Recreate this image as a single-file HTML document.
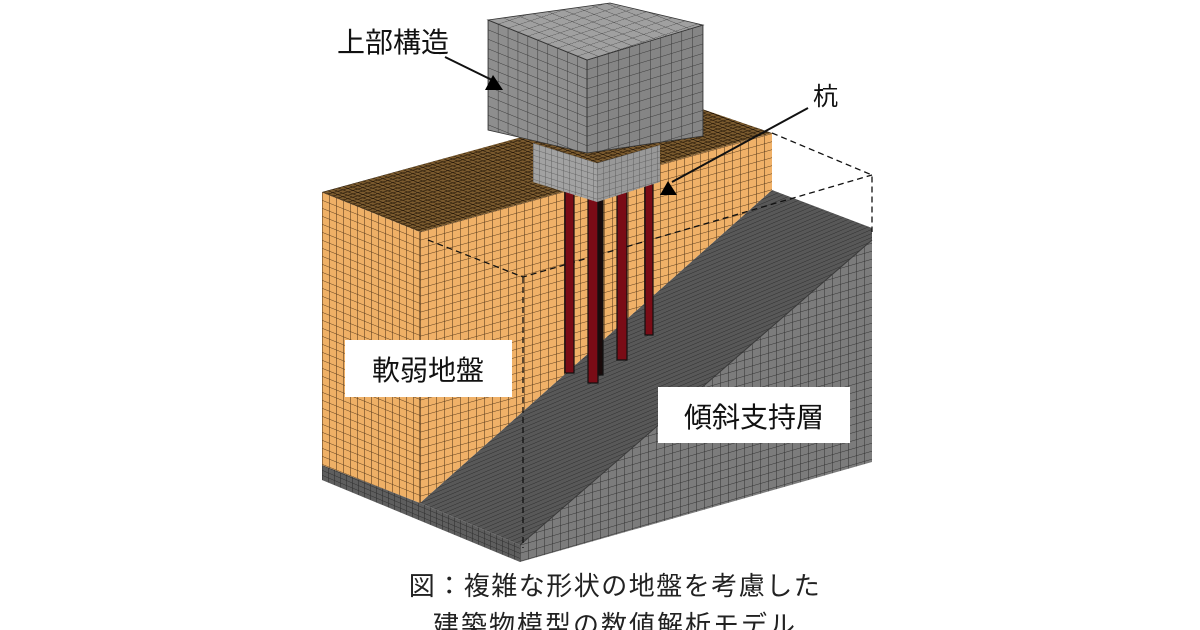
<!DOCTYPE html>
<html><head><meta charset="utf-8"><style>
html,body{margin:0;padding:0;background:#fff;}
svg{display:block;}
text{font-family:"Liberation Sans","Noto Sans CJK JP",sans-serif;}
</style></head><body>
<svg width="1200" height="630" viewBox="0 0 1200 630" xmlns="http://www.w3.org/2000/svg">
<defs>
  <pattern id="gBlkL" width="10" height="10" patternUnits="userSpaceOnUse" patternTransform="matrix(0.99,0.4,0,0.95,488,20)">
    <rect width="10" height="10" fill="#8e8e8e"/><path d="M0 0H10M0 0V10" stroke="#3a3a3a" stroke-width="1"/></pattern>
  <pattern id="gBlkR" width="10" height="10" patternUnits="userSpaceOnUse" patternTransform="matrix(1.05,-0.32,0,0.95,587,60)">
    <rect width="10" height="10" fill="#858585"/><path d="M0 0H10M0 0V10" stroke="#3a3a3a" stroke-width="1"/></pattern>
  <pattern id="gBlkT" width="10" height="10" patternUnits="userSpaceOnUse" patternTransform="matrix(0.99,0.4,1.1,-0.36,488,20)">
    <rect width="10" height="10" fill="#a0a0a0"/><path d="M0 0H10M0 0V10" stroke="#444" stroke-width="1"/></pattern>
  <pattern id="gCapL" width="6" height="6" patternUnits="userSpaceOnUse" patternTransform="matrix(1,0.31,0,1,533,143)">
    <rect width="6" height="6" fill="#a2a2a2"/><path d="M0 0H6M0 0V6" stroke="#555" stroke-width="0.8"/></pattern>
  <pattern id="gCapR" width="6" height="6" patternUnits="userSpaceOnUse" patternTransform="matrix(1,-0.29,0,1,597,163)">
    <rect width="6" height="6" fill="#989898"/><path d="M0 0H6M0 0V6" stroke="#555" stroke-width="0.8"/></pattern>
  <pattern id="oL" width="7" height="8" patternUnits="userSpaceOnUse" patternTransform="matrix(1,0.4,0,1,322,192)">
    <rect width="7" height="8" fill="#efb066"/><path d="M0 0H7M0 0V8" stroke="#5a3c1c" stroke-width="1.1"/></pattern>
  <pattern id="oF" width="8" height="8" patternUnits="userSpaceOnUse" patternTransform="matrix(1,-0.28,0,1,420,232)">
    <rect width="8" height="8" fill="#f0b168"/><path d="M0 0H8M0 0V8" stroke="#5a3c1c" stroke-width="1.1"/></pattern>
  <pattern id="oT" width="5" height="5" patternUnits="userSpaceOnUse" patternTransform="matrix(1,0.4,1,-0.28,322,192)">
    <rect width="5" height="5" fill="#7a5a2e"/><path d="M0 0H5M0 0V5" stroke="#1e1206" stroke-width="1.6"/></pattern>
  <pattern id="gSl" width="6" height="4" patternUnits="userSpaceOnUse" patternTransform="matrix(1,-0.42,0,1,420,503)">
    <rect width="6" height="4" fill="#585858"/><path d="M0 0H6" stroke="#2e2e2e" stroke-width="1"/></pattern>
  <pattern id="gRt" width="8" height="8" patternUnits="userSpaceOnUse" patternTransform="matrix(1,-0.29,0,1,520,545)">
    <rect width="8" height="8" fill="#7c7c7c"/><path d="M0 0H8M0 0V8" stroke="#333" stroke-width="1"/></pattern>
  <pattern id="gBs" width="6" height="5" patternUnits="userSpaceOnUse" patternTransform="matrix(1,0.42,0,1,322,465)">
    <rect width="6" height="5" fill="#5e5e5e"/><path d="M0 0H6M0 0V5" stroke="#2e2e2e" stroke-width="1"/></pattern>
</defs>

<polygon points="322,465 420,503 520,545 520,562 322,480" fill="url(#gBs)"/>
<polygon points="420,503 772,190 872,228 872,240 520,545" fill="url(#gSl)"/>
<polygon points="520,545 872,240 872,462 520,562" fill="url(#gRt)"/>
<polyline points="520,545 872,240" stroke="#3a3a3a" stroke-width="1" fill="none"/>

<polygon points="322,192 420,232 420,503 322,465" fill="url(#oL)"/>
<polygon points="420,232 772,133 772,190 420,503" fill="url(#oF)"/>
<polygon points="322,192 667,97 772,133 420,232" fill="url(#oT)"/>
<line x1="420" y1="232" x2="420" y2="503" stroke="#3a2410" stroke-width="1"/>

<g stroke="#111" stroke-width="1.3" stroke-dasharray="6,4" fill="none">
  <polyline points="428,240 523,277 872,175"/>
  <polyline points="772,133 872,175 872,232"/>
  <line x1="523" y1="277" x2="523" y2="548"/>
</g>

<g stroke="#111" stroke-width="1.2">
  <rect x="565" y="180" width="9" height="193" fill="#7a0c16"/>
  <rect x="588" y="190" width="10" height="193" fill="#7a0c16"/>
  <rect x="598" y="190" width="5" height="185" fill="#1a0a0a"/>
  <rect x="617" y="185" width="10" height="175" fill="#7a0c16"/>
  <rect x="645" y="178" width="8" height="157" fill="#7a0c16"/>
</g>

<polygon points="533,143 597,163 597,202 533,182" fill="url(#gCapL)"/>
<polygon points="597,163 660,145 660,182 597,202" fill="url(#gCapR)"/>

<polygon points="488,20 587,60 587,153 488,130" fill="url(#gBlkL)" stroke="#333" stroke-width="0.8"/>
<polygon points="587,60 703,25 703,136 587,153" fill="url(#gBlkR)" stroke="#333" stroke-width="0.8"/>
<polygon points="488,20 610,3 703,25 587,60" fill="url(#gBlkT)" stroke="#333" stroke-width="0.8"/>

<text x="337" y="52" font-size="28" fill="#111">上部構造</text>
<line x1="445" y1="57" x2="496" y2="82" stroke="#111" stroke-width="2"/>
<polygon points="485,90 503,90 493,75" fill="#000"/>

<text x="813" y="105" font-size="25" fill="#111">杭</text>
<line x1="808" y1="108" x2="672" y2="182" stroke="#111" stroke-width="2"/>
<polygon points="660,195 677,195 668,181" fill="#000"/>

<rect x="345" y="340" width="167" height="57" fill="#fff"/>
<text x="428" y="380" font-size="28" fill="#111" text-anchor="middle">軟弱地盤</text>
<rect x="658" y="387" width="192" height="56" fill="#fff"/>
<text x="754" y="427" font-size="28" fill="#111" text-anchor="middle">傾斜支持層</text>

<text x="615" y="595" font-size="26" fill="#222" text-anchor="middle" letter-spacing="1.5">図：複雑な形状の地盤を考慮した</text>
<text x="615" y="634" font-size="26" fill="#222" text-anchor="middle" letter-spacing="2">建築物模型の数値解析モデル</text>
</svg>
</body></html>
